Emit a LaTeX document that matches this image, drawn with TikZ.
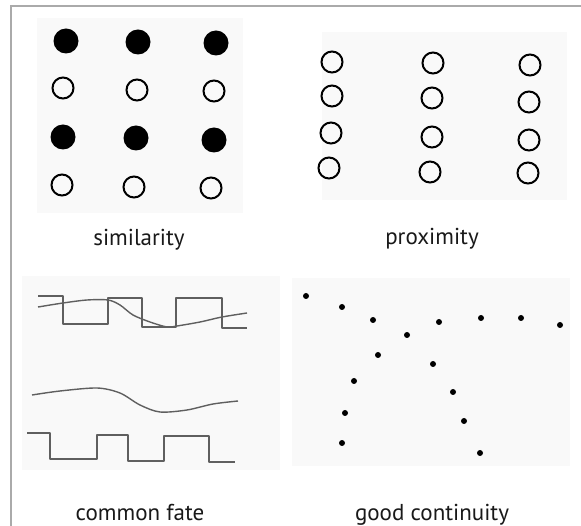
\documentclass[tikz,border=0pt]{standalone}
\usepackage{fontspec}
\setmainfont{PT Sans}
\usepackage{xcolor}
\usepackage{tikz}
\definecolor{framecolor}{RGB}{170, 170, 170}
\definecolor{wavecolor}{RGB}{95, 95, 95}
\definecolor{pagecolor}{RGB}{249, 249, 249}
\usetikzlibrary{positioning}

\begin{document}
\begin{tikzpicture}[
    x=1pt, y=-1pt,
    dot/.style={circle, fill=black, inner sep=0pt, minimum size=25pt},
    ring/.style={circle, draw=black, line width=2pt, inner sep=0pt, minimum size=21pt},
    speck/.style={circle, fill=black, inner sep=0pt, minimum size=6pt},
    caption/.style={anchor=base, text=black!90, font=\fontsize{23}{26}\selectfont},
    wave/.style={draw=wavecolor, line width=1.4pt, line join=round},
    page/.style={fill=pagecolor}
]
    \useasboundingbox (0,0) rectangle (581,526);

    % Frame and faint printed page behind each panel
    \draw[framecolor, line width=1.5pt] (581,6) -- (11,6) -- (11,526);
    \fill[page] (37,18) rectangle (243,213);
    \fill[page] (322,32) rectangle (567,200);
    \fill[page] (22,276) rectangle (280,470);
    \fill[page] (292,278) rectangle (570,466);

    % Similarity
    \node[dot] (s11) at (66,41) {};
    \node[dot] (s12) at (138,42) {};
    \node[dot] (s13) at (216,43) {};
    \node[ring] (s21) at (63,88) {};
    \node[ring] (s22) at (137,90) {};
    \node[ring] (s23) at (214,91) {};
    \node[dot] (s31) at (63,137) {};
    \node[dot] (s32) at (136,138) {};
    \node[dot] (s33) at (214,140) {};
    \node[ring] (s41) at (62,185) {};
    \node[ring] (s42) at (134,187) {};
    \node[ring] (s43) at (211,188) {};
    \node[caption] (simlabel) at (139,246) {similarity};

    % Proximity
    \node[ring] (p11) at (332,62) {};
    \node[ring] (p12) at (332,96) {};
    \node[ring] (p13) at (331,133) {};
    \node[ring] (p14) at (329,168) {};
    \node[ring] (p21) at (433,63) {};
    \node[ring] (p22) at (432,98) {};
    \node[ring] (p23) at (432,137) {};
    \node[ring] (p24) at (430,172) {};
    \node[ring] (p31) at (530,65) {};
    \node[ring] (p32) at (529,102) {};
    \node[ring] (p33) at (529,140) {};
    \node[ring] (p34) at (528,173) {};
    \node[caption] (proxlabel) at (432,245) {proximity};

    % Common fate
    \draw[wave] (38,296) -- (63,296) -- (63,324) -- (108,324) -- (108,298) -- (142,298)
        -- (142,327) -- (176,327) -- (176,298) -- (222,298) -- (222,328) -- (247,328);
    \draw[wave] plot[smooth] coordinates {(38,307) (63,303) (87,300) (108,300) (120,305)
        (133,315) (150,322) (167,327) (177,326) (200,322) (222,317) (247,313)};
    \draw[wave] plot[smooth] coordinates {(32,395) (60,391) (97,388) (120,393) (140,405)
        (160,412) (187,410) (213,404) (238,401)};
    \draw[wave] (27,433) -- (50,433) -- (50,459) -- (97,459) -- (97,435) -- (128,435)
        -- (128,461) -- (164,461) -- (164,436) -- (209,436) -- (209,462) -- (235,462);
    \node[caption] (fatelabel) at (140,520) {common fate};

    % Good continuity
    \node[speck] (g1) at (306,296) {};
    \node[speck] (g2) at (342,307) {};
    \node[speck] (g3) at (373,320) {};
    \node[speck] (g4) at (407,335) {};
    \node[speck] (g5) at (439,322) {};
    \node[speck] (g6) at (481,318) {};
    \node[speck] (g7) at (521,318) {};
    \node[speck] (g8) at (560,325) {};
    \node[speck] (g9) at (378,355) {};
    \node[speck] (g10) at (354,381) {};
    \node[speck] (g11) at (345,413) {};
    \node[speck] (g12) at (342,443) {};
    \node[speck] (g13) at (433,364) {};
    \node[speck] (g14) at (453,392) {};
    \node[speck] (g15) at (464,421) {};
    \node[speck] (g16) at (480,453) {};
    \node[caption] (contlabel) at (432,520) {good continuity};
\end{tikzpicture}
\end{document}
